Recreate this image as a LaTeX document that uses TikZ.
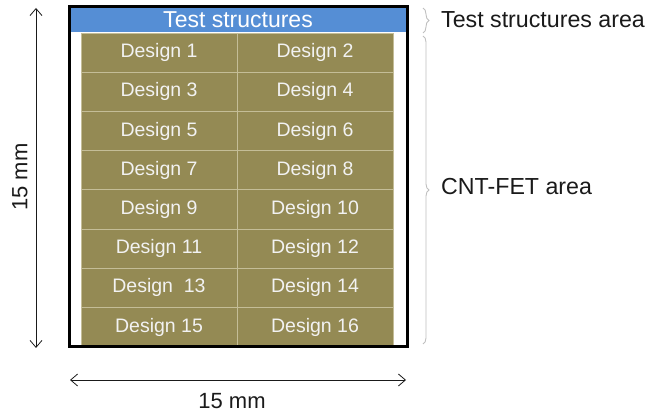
\documentclass[tikz,border=0pt]{standalone}
\usepackage{fontspec}
\setmainfont{Liberation Sans}
\usetikzlibrary{arrows.meta,decorations.pathreplacing}
\definecolor{olivefill}{HTML}{948A54}
\definecolor{gridc}{HTML}{C4BD97}
\definecolor{bandblue}{HTML}{558ED5}
\definecolor{bracegray}{HTML}{BFBFBF}
\definecolor{txtblack}{HTML}{1A1A1A}
\begin{document}
\begin{tikzpicture}[x=1pt,y=-1pt,
  cell/.style={draw=gridc, line width=0.8pt, fill=olivefill, minimum width=156pt,
    minimum height=39.2pt, inner sep=0pt, text=white!95!black,
    font=\fontsize{19.5}{22}\selectfont},
  band/.style={fill=bandblue, minimum width=338pt, minimum height=25pt, inner sep=0pt,
    text=white, font=\fontsize{23}{26}\selectfont},
  frame/.style={draw=black, line width=3pt, minimum width=338pt, minimum height=340pt, inner sep=0pt},
  dimarrow/.style={line width=0.8pt, draw=txtblack, {Straight Barb[length=7pt,width=12pt]}-{Straight Barb[length=7pt,width=12pt]}},
  lbl/.style={text=txtblack, font=\fontsize{22}{26}\selectfont, inner sep=0pt},
  arealbl/.style={text=txtblack, font=\fontsize{23.2}{26}\selectfont, inner sep=0pt, anchor=west},
  bracestyle/.style={draw=bracegray, line width=0.9pt, decorate, decoration={brace, amplitude=6pt}}
]
\useasboundingbox (0,0) rectangle (646,414);
% white chip background
\fill[white] (69,7) rectangle (407,347);
% blue test structure band
\node[band] (band) at (238,20) {Test structures};
% design cells
\foreach \r in {0,...,7}{
  \foreach \c in {0,1}{
    \pgfmathtruncatemacro\n{2*\r+\c+1}
    \node[cell] (cell\n) at ({159+156*\c},{33+39.2*(\r+0.5)})
      {\ifnum\n=13 Design~~13\else Design \n\fi};
  }
}
% outer frame
\node[frame] (chip) at (238,177) {};
% vertical dimension
\coordinate (vt) at (36,8);
\coordinate (vb) at (36,348);
\draw[dimarrow] (vt) -- (vb);
\node[lbl, rotate=90] (vlabel) at (20,177) {15 mm};
% horizontal dimension
\coordinate (hl) at (70,380);
\coordinate (hr) at (406,380);
\draw[dimarrow] (hl) -- (hr);
\node[lbl] (hlabel) at (232,401) {15 mm};
% braces
\coordinate (b1t) at (423,8);
\coordinate (b1b) at (423,33);
\draw[bracestyle] (b1t) -- (b1b);
\node[arealbl] (tsarea) at (441,20) {Test structures area};
\coordinate (b2t) at (423,36);
\coordinate (b2b) at (423,344);
\draw[bracestyle] (b2t) -- (b2b);
\node[arealbl] (cntarea) at (441,187) {CNT-FET area};
\end{tikzpicture}
\end{document}
